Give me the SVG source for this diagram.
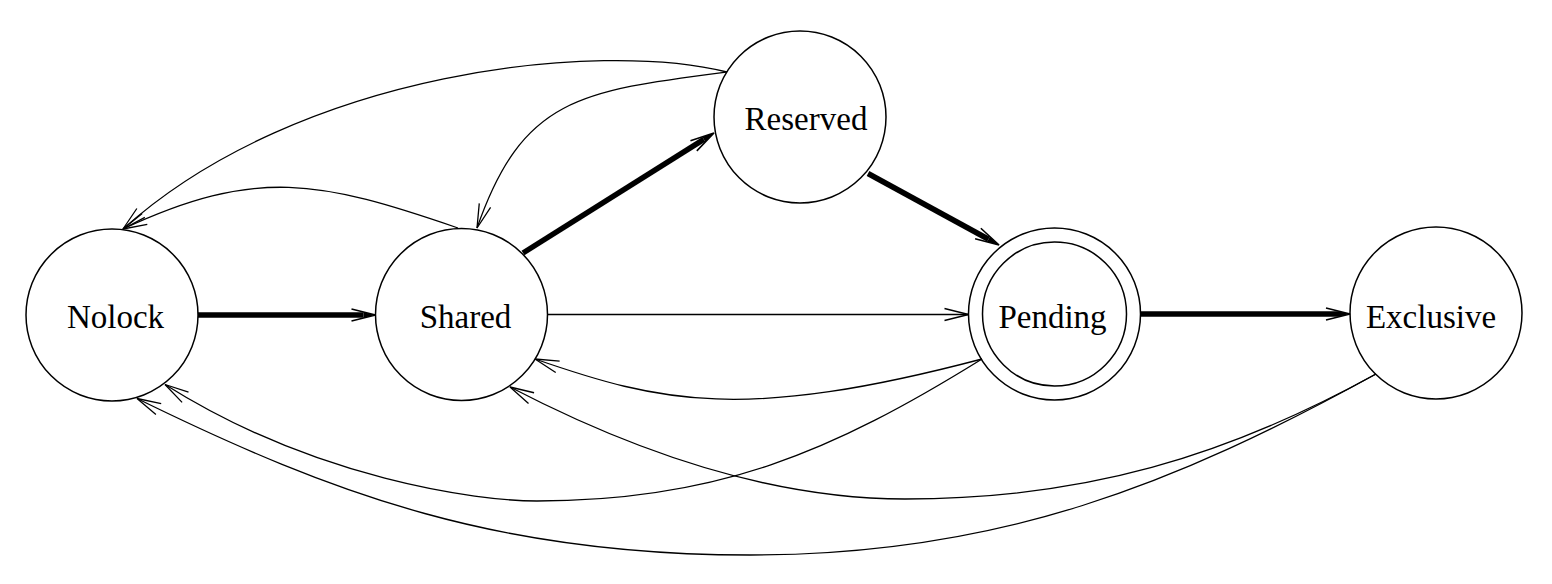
<svg xmlns="http://www.w3.org/2000/svg" width="1552" height="584" viewBox="0 0 1552 584">
<style>
.node{fill:#fff;stroke:#000;stroke-width:1.5}
.lbl{font-family:"Liberation Serif","Times New Roman",serif;font-size:33px;fill:#000;text-anchor:middle}
.thin{fill:none;stroke:#000;stroke-width:1.3;marker-end:url(#ah)}
.thick{fill:none;stroke:#000;stroke-width:5.5;stroke-linecap:butt;marker-end:url(#ahT)}
</style>
<defs>
<marker id="ah" markerUnits="userSpaceOnUse" viewBox="0 0 30 16" markerWidth="30" markerHeight="16" refX="24" refY="8" orient="auto" overflow="visible">
<path d="M0,2 L24,8 L0,14" fill="none" stroke="#000" stroke-width="1.3"/>
</marker>
<marker id="ahT" markerUnits="userSpaceOnUse" viewBox="0 0 30 16" markerWidth="30" markerHeight="16" refX="12" refY="8" orient="auto" overflow="visible">
<path d="M12,5.2 L24,8 L12,10.8 Z" fill="#000"/>
<path d="M0,2 L24,8 L0,14" fill="none" stroke="#000" stroke-width="1.6"/>
</marker>
</defs>
<rect width="1552" height="584" fill="#fff"/>
<g id="nolock"><circle class="node" cx="112" cy="315" r="86"/><text class="lbl" x="115.5" y="327.5">Nolock</text></g>
<g id="shared"><circle class="node" cx="461.5" cy="314.5" r="86"/><text class="lbl" x="465.5" y="327.5">Shared</text></g>
<g id="reserved"><circle class="node" cx="800" cy="117" r="86"/><text class="lbl" x="806" y="130">Reserved</text></g>
<g id="pending"><circle class="node" cx="1054.5" cy="314" r="86"/><circle class="node" cx="1054.5" cy="314" r="72"/><text class="lbl" x="1052.5" y="327.5">Pending</text></g>
<g id="exclusive"><circle class="node" cx="1436" cy="313" r="86"/><text class="lbl" x="1431" y="327.5">Exclusive</text></g>
<g id="connectors">
<path class="thick" d="M198,315 L363.5,315"/>
<path class="thick" d="M523,253 L703.8,139.4"/>
<path class="thick" d="M868,173.5 L988.5,239.25"/>
<path class="thick" d="M1140.5,314 L1338,314"/>
<path class="thin" d="M547.5,314.5 L968.5,314.5"/>
<path class="thin" d="M727,72 C600,40 300,70 123,229"/>
<path class="thin" d="M727,72 C579,91 522.5,98 477,228"/>
<path class="thin" d="M458,228 C320,180.7 256.6,166.7 123,229"/>
<path class="thin" d="M982,359 C743.2,422 660.9,402.6 535,359"/>
<path class="thin" d="M982,359 C832,452 717,501 537,501 C477,501 315,479 165,384.5"/>
<path class="thin" d="M1376,374 C1226,456.5 1085,499 905,499 C775,499 640,454.6 510,387"/>
<path class="thin" d="M1376,374 C1176,484 1000,555 750,555 C500,555 337,496.5 137,398.5"/>
</g>
</svg>
